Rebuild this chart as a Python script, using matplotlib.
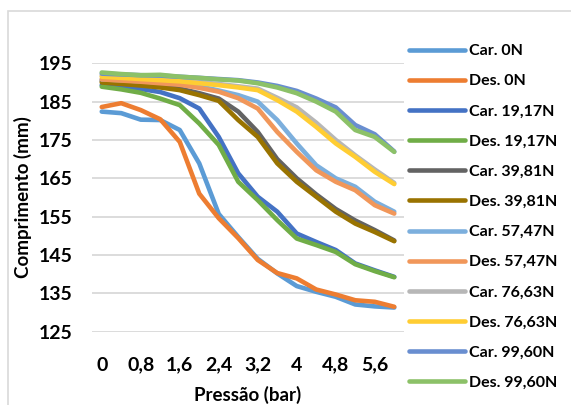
import matplotlib.pyplot as plt
from matplotlib.patches import Rectangle

# eixo x: pressão em bar (passo de 0,4)
pressao = ["0", "0,4", "0,8", "1,2", "1,6", "2", "2,4", "2,8",
           "3,2", "3,6", "4", "4,4", "4,8", "5,2", "5,6", "6"]

car_0 = [182.4, 182.0, 180.3, 180.2, 177.6, 168.9, 155.7, 149.7,
         144.0, 140.2, 136.9, 135.4, 134.1, 132.1, 131.6, 131.3]
des_0 = [183.6, 184.6, 182.8, 180.4, 174.5, 161.0, 154.6, 149.4,
         143.7, 140.3, 138.9, 136.0, 134.7, 133.2, 132.8, 131.5]
car_19 = [189.3, 188.8, 188.3, 187.5, 185.9, 183.2, 175.8, 166.3,
          160.2, 156.3, 150.6, 148.4, 146.3, 142.8, 141.0, 139.3]
des_19 = [188.9, 188.2, 187.3, 185.8, 184.1, 179.3, 173.7, 164.1,
          159.3, 154.1, 149.3, 147.6, 145.8, 142.6, 140.8, 139.2]
car_39 = [190.4, 190.0, 189.6, 189.1, 188.4, 187.2, 185.8, 182.4,
          177.1, 170.0, 165.0, 160.8, 157.0, 154.0, 151.5, 148.8]
des_39 = [190.0, 189.6, 189.2, 188.7, 188.0, 186.7, 185.2, 180.2,
          175.8, 168.9, 164.1, 160.2, 156.3, 153.2, 151.0, 148.6]
car_57 = [190.8, 190.6, 190.3, 190.0, 189.6, 189.0, 187.9, 186.7,
          185.0, 180.2, 174.1, 168.4, 165.0, 162.8, 158.9, 156.3]
des_57 = [190.8, 190.5, 190.2, 189.8, 189.4, 188.6, 187.6, 185.9,
          183.2, 177.1, 171.9, 167.1, 164.1, 161.9, 158.0, 155.8]
car_76 = [191.8, 191.5, 191.2, 190.9, 190.6, 190.1, 189.6, 189.0,
          188.4, 186.0, 183.5, 179.5, 175.0, 171.0, 167.3, 163.8]
des_76 = [191.5, 191.2, 190.9, 190.6, 190.3, 189.8, 189.3, 188.7,
          188.0, 185.4, 182.4, 178.4, 174.1, 170.6, 166.7, 163.5]
car_99 = [192.3, 192.1, 191.9, 191.8, 191.5, 191.2, 190.9, 190.6,
          190.0, 189.1, 187.8, 185.8, 183.5, 178.9, 176.5, 172.0]
des_99 = [192.6, 192.2, 191.9, 192.0, 191.5, 191.2, 190.8, 190.5,
          189.8, 188.7, 187.2, 185.0, 182.4, 177.6, 175.8, 171.9]

series = [
    ("Car. 0N", car_0, "#5B9BD5"),
    ("Des. 0N", des_0, "#ED7D31"),
    ("Car. 19,17N", car_19, "#4472C4"),
    ("Des. 19,17N", des_19, "#70AD47"),
    ("Car. 39,81N", car_39, "#636363"),
    ("Des. 39,81N", des_39, "#997300"),
    ("Car. 57,47N", car_57, "#7CAFDD"),
    ("Des. 57,47N", des_57, "#F1975A"),
    ("Car. 76,63N", car_76, "#B7B7B7"),
    ("Des. 76,63N", des_76, "#FFCD33"),
    ("Car. 99,60N", car_99, "#698ED0"),
    ("Des. 99,60N", des_99, "#8CC168"),
]

plt.rcParams['font.family'] = ['Lato', 'DejaVu Sans']

W, H = 571, 405
fig = plt.figure(figsize=(W / 100, H / 100), dpi=100)

# moldura da área do gráfico
fig.patches.append(Rectangle((8 / W, -0.1), 1.2, 1.1 - 11 / H,
                             transform=fig.transFigure, fill=False,
                             edgecolor="#D9D9D9", lw=1.2))

ax = fig.add_axes([92 / W, 1 - 331.7 / H, (404 - 92) / W, (331.7 - 63.3) / H])
x = list(range(len(pressao)))
for nome, vals, cor in series:
    ax.plot(x, vals, color=cor, lw=3.3, label=nome,
            solid_capstyle="round", solid_joinstyle="round")

ax.set_xlim(-0.5, len(pressao) - 0.5)
ax.set_ylim(125, 195)
ax.set_yticks(range(125, 196, 10))
ax.set_xticks(x[::2])
ax.set_xticklabels(pressao[::2])
ax.grid(axis="y", color="#D9D9D9", lw=1.3)
ax.set_axisbelow(True)
for s in ax.spines.values():
    s.set_visible(False)
ax.tick_params(length=0, labelsize=14)
ax.tick_params(axis="x", pad=18)
ax.tick_params(axis="y", pad=14)
for t in ax.get_xticklabels() + ax.get_yticklabels():
    t.set_fontweight("bold")

ax.set_xlabel("Pressão (bar)", fontsize=13.5, fontweight="bold", labelpad=9)
ax.set_ylabel("Comprimento (mm)", fontsize=13.5, fontweight="bold", labelpad=5)

leg = ax.legend(loc="upper left", bbox_to_anchor=(409 / W, 1 - 44 / H),
                bbox_transform=fig.transFigure, frameon=False,
                prop={"size": 11.5, "weight": "bold"}, handlelength=3.5,
                handletextpad=0.25, labelspacing=1.0, borderpad=0,
                borderaxespad=0)
for ln in leg.get_lines():
    ln.set_linewidth(3.3)
    ln.set_solid_capstyle("round")

fig.savefig("out.png", dpi=100)
